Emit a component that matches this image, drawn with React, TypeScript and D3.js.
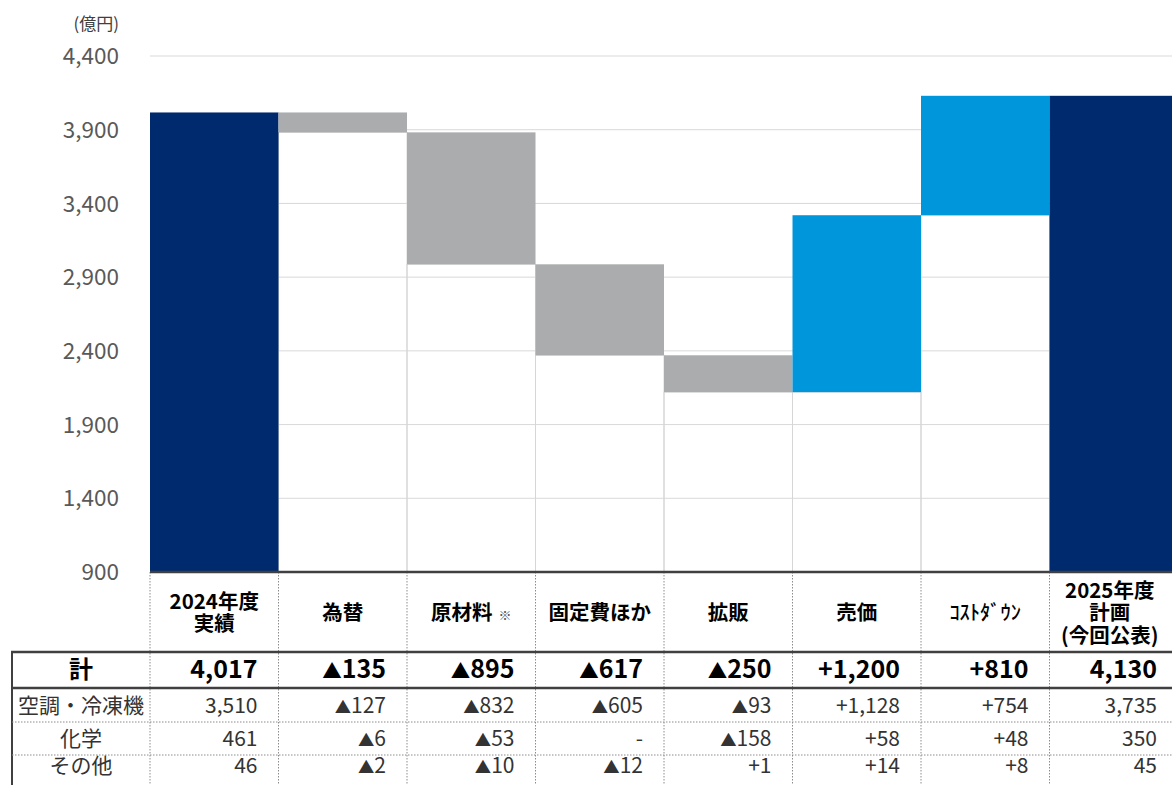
import React from 'react';
import * as d3 from 'd3';

// ---- data ----
const categories = ['2024年度実績', '為替', '原材料', '固定費ほか', '拡販', '売価', 'コストダウン', '2025年度計画'];
const headerLines: string[][] = [
  ['2024年度', '実績'],
  ['為替'],
  ['原材料'],
  ['固定費ほか'],
  ['拡販'],
  ['売価'],
  ['ｺｽﾄﾀﾞｳﾝ'],
  ['2025年度', '計画', '(今回公表)'],
];
const values = [4017, -135, -895, -617, -250, 1200, 810, 4130];
const kinds = ['total', 'delta', 'delta', 'delta', 'delta', 'delta', 'delta', 'total'];
const yTicks = [900, 1400, 1900, 2400, 2900, 3400, 3900, 4400];
const rowLabels = ['計', '空調・冷凍機', '化学', 'その他'];
const rowTotal = ['4,017', '▲135', '▲895', '▲617', '▲250', '+1,200', '+810', '4,130'];
const rowAC = ['3,510', '▲127', '▲832', '▲605', '▲93', '+1,128', '+754', '3,735'];
const rowChem = ['461', '▲6', '▲53', '-', '▲158', '+58', '+48', '350'];
const rowOther = ['46', '▲2', '▲10', '▲12', '+1', '+14', '+8', '45'];
const tableRows = [rowTotal, rowAC, rowChem, rowOther];

// ---- layout ----
const W = 1172;
const H = 785;
const plotLeft = 150;
const plotRight = 1178;
const yTop = 56;
const yBottom = 572;
const tableLeft = 12;
const headerBottom = 652;
const rowBounds = [652, 688, 722, 755, 790];
const FONT = "'Noto Sans CJK JP', 'Noto Sans', sans-serif";

const NAVY = '#002a6e';
const GREY = '#aaacad';
const BLUE = '#0096db';

function renderValue(v: string, fs: number) {
  if (v.startsWith('▲')) {
    return (
      <>
        <tspan fontSize={fs * 0.78}>▲</tspan>
        {v.slice(1)}
      </>
    );
  }
  return v;
}

export default function App() {
  const x = d3.scaleBand<string>().domain(categories).range([plotLeft, plotRight]).padding(0);
  const y = d3.scaleLinear().domain([900, 4400]).range([yBottom, yTop]);
  const bw = x.bandwidth();

  let running = 0;
  const bars = values.map((v, i) => {
    if (kinds[i] === 'total') {
      running = v;
      return { cat: categories[i], lo: 900, hi: v, base: null as null | number, color: NAVY };
    }
    const start = running;
    const end = running + v;
    running = end;
    const lo = Math.min(start, end);
    const hi = Math.max(start, end);
    return { cat: categories[i], lo, hi, base: lo, color: v < 0 ? GREY : BLUE };
  });

  const boundaries = [plotLeft, ...categories.map((c) => (x(c) as number) + bw)];

  return (
    <svg width={W} height={H} style={{ position: 'absolute', left: 0, top: 0, background: '#fff' }} fontFamily={FONT}>
      <rect x={0} y={0} width={W} height={H} fill="#fff" />
      <text x={119} y={30} textAnchor="end" fontSize={17} fill="#404040">(億円)</text>
      {yTicks.map((t) => (
        <line key={'g' + t} x1={plotLeft} x2={W} y1={y(t)} y2={y(t)} stroke="#d9d9d9" strokeWidth={1} />
      ))}
      {yTicks.map((t) => (
        <text key={'t' + t} x={119} y={y(t)} dy="0.36em" textAnchor="end" fontSize={22.5} fill="#595959">
          {d3.format(',')(t)}
        </text>
      ))}
      {bars.map((b) =>
        b.base !== null ? (
          <rect key={'b' + b.cat} x={x(b.cat)} y={y(b.base)} width={bw} height={y(900) - y(b.base)} fill="none" stroke="#d6d6d6" strokeWidth={1} />
        ) : null
      )}
      {bars.map((b) => (
        <rect key={'r' + b.cat} x={x(b.cat)} y={y(b.hi)} width={bw} height={y(b.lo) - y(b.hi)} fill={b.color} />
      ))}

      {boundaries.map((bx, i) => (
        <line key={'v' + i} x1={bx} x2={bx} y1={yBottom} y2={H} stroke="#8c8c8c" strokeWidth={1} strokeDasharray="1.5 1.5" />
      ))}
      <line x1={tableLeft} x2={tableLeft} y1={headerBottom} y2={H} stroke="#404040" strokeWidth={2} />
      {[rowBounds[2], rowBounds[3]].map((ry) => (
        <line key={'d' + ry} x1={tableLeft} x2={W} y1={ry} y2={ry} stroke="#8c8c8c" strokeWidth={1} strokeDasharray="1.5 1.5" />
      ))}
      <line x1={plotLeft} x2={W} y1={yBottom} y2={yBottom} stroke="#404040" strokeWidth={2.5} />
      <line x1={tableLeft - 1} x2={W} y1={rowBounds[0]} y2={rowBounds[0]} stroke="#404040" strokeWidth={2.5} />
      <line x1={tableLeft - 1} x2={W} y1={rowBounds[1]} y2={rowBounds[1]} stroke="#404040" strokeWidth={2.5} />

      {headerLines.map((lines, i) => {
        const cx = (x(categories[i]) as number) + bw / 2 - (i === 7 ? 4 : 0);
        const mid = (yBottom + headerBottom) / 2 + 8;
        const lh = 22.5;
        const isCost = i === 6;
        return (
          <text key={'h' + i} x={cx} textAnchor="middle" fontSize={20.5} fontWeight={isCost ? 500 : 700} fill="#000">
            {lines.map((ln, j) => (
              <tspan key={j} x={cx} y={mid + (j - (lines.length - 1) / 2) * lh}>
                {ln}
                {i === 2 ? <tspan fontSize={13} fontWeight={400} fill="#555" dx={6}>※</tspan> : null}
              </tspan>
            ))}
          </text>
        );
      })}

      {tableRows.map((row, r) => {
        const top = rowBounds[r];
        const bottom = rowBounds[r + 1];
        const base = r === 0 ? top + 26 : r === 3 ? top + 18 : (top + bottom) / 2 + 7.5;
        const bold = r === 0;
        const fs = bold ? 25 : 21;
        return (
          <g key={'row' + r}>
            <text x={(tableLeft + plotLeft) / 2} y={base} textAnchor="middle" fontSize={bold ? 24 : 21} fontWeight={bold ? 700 : 400} fill={bold ? '#000' : '#333'}>
              {rowLabels[r]}
            </text>
            {row.map((v, i) => (
              <text key={i} x={(x(categories[i]) as number) + bw - 21} y={base} textAnchor="end" fontSize={fs} fontWeight={bold ? 700 : 400} fill={bold ? '#000' : '#333'}>
                {renderValue(v, fs)}
              </text>
            ))}
          </g>
        );
      })}
    </svg>
  );
}
